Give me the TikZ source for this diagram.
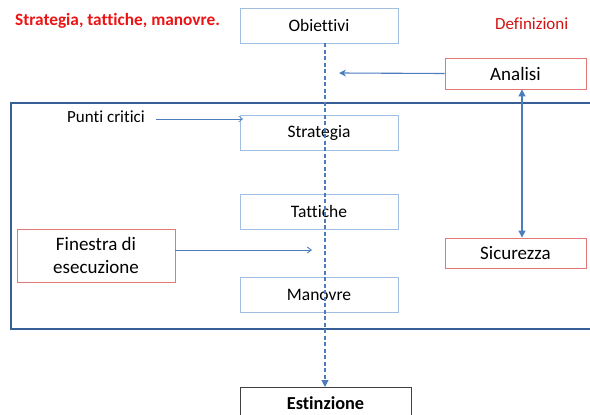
\documentclass[tikz,border=0pt]{standalone}
\usepackage{fontspec}
\setmainfont{Carlito}[Ligatures={NoCommon,NoContextual}]
\usetikzlibrary{arrows.meta}
\definecolor{lblue}{RGB}{160,190,225}
\definecolor{ablue}{RGB}{75,125,190}
\definecolor{dblue}{RGB}{55,95,150}
\definecolor{lred}{RGB}{225,120,120}
\definecolor{tred}{RGB}{235,20,20}
\tikzset{
  bluebox/.style={draw=lblue, line width=0.9pt, minimum width=158pt, minimum height=35pt, font=\fontsize{17.5}{20}\selectfont, inner sep=0pt},
  redbox/.style={draw=lred, line width=0.9pt, font=\fontsize{19}{23}\selectfont, inner sep=0pt, align=center},
  conn/.style={draw=ablue, line width=1.1pt},
}
\begin{document}
\begin{tikzpicture}[x=1pt,y=-1pt]
\useasboundingbox (0,0) rectangle (590,415);
\clip (0,0) rectangle (590,415);
% big frame
\node[draw=dblue, line width=1.6pt, minimum width=600pt, minimum height=226pt, anchor=north west, inner sep=0pt] (frame) at (10,102) {};
% title texts
\node[text=tred, font=\fontsize{17.3}{20}\selectfont\bfseries, anchor=west, inner sep=0pt] (title) at (15,21) {Strategia, tattiche, manovre.};
\node[text=tred!90!black, font=\fontsize{17}{20}\selectfont, anchor=west, inner sep=0pt] (def) at (495,24) {Definizioni};
% boxes
\node[bluebox] (obi) at (319,25.5) {Obiettivi};
\node[bluebox] (str) at (319,132.5) {Strategia};
\node[bluebox] (tat) at (319,211.5) {Tattiche};
\node[bluebox] (man) at (319,294.5) {Manovre};
\node[redbox, minimum width=141pt, minimum height=31pt] (ana) at (515.5,73.5) {Analisi};
\node[redbox, minimum width=141pt, minimum height=30pt] (sic) at (515.5,253) {Sicurezza};
\node[redbox, minimum width=158pt, minimum height=53pt] (fin) at (96,255.5) {Finestra di\\esecuzione};
\node[draw=black!75, line width=0.9pt, minimum width=171pt, minimum height=40pt, anchor=north, inner sep=0pt] (est) at (325.5,387) {};
\node[font=\fontsize{18.3}{22}\selectfont\bfseries] (estt) at (325.5,403) {Estinzione};
\node[font=\fontsize{17}{20}\selectfont, anchor=west, inner sep=0pt] (pc) at (67,117) {Punti critici};
% coordinates
\coordinate (dtop) at (325,43);
\coordinate (anaend) at (339,73);
\coordinate (finend) at (312,250);
\coordinate (pcend) at (243,119);
% connectors
\draw[conn, dashed, dash pattern=on 4pt off 2.5pt, -{Triangle[length=7pt,width=7pt]}] (dtop) -- (est.north -| dtop);
\draw[conn, -{Stealth[length=7pt,width=7pt]}] (ana.west) -- (anaend);
\draw[conn, {Triangle[length=7pt,width=7pt]}-{Triangle[length=7pt,width=7pt]}] (ana.south -| 522,0) -- (sic.north -| 522,0);
\draw[conn, line width=0.9pt, -{Straight Barb[length=4pt,width=6pt]}] (fin.east |- 0,250) -- (finend);
\draw[conn, line width=0.6pt, -{Straight Barb[length=4pt,width=6pt]}] (pc.east |- 0,119) ++(11,0) -- (pcend);
\end{tikzpicture}
\end{document}
